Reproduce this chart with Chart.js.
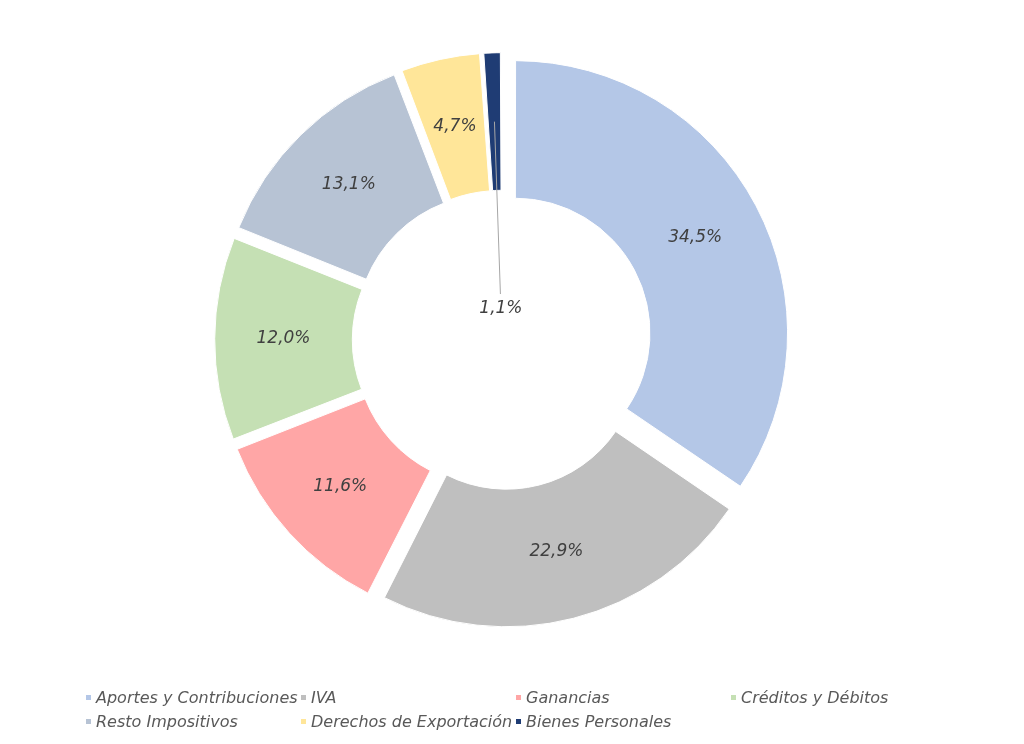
<!DOCTYPE html>
<html>
<head>
<meta charset="utf-8">
<script src="https://cdn.jsdelivr.net/npm/chart.js@4.4.1/dist/chart.umd.min.js"></script>
<style>
  html, body { margin: 0; padding: 0; background: #fff; }
  #wrap { position: relative; width: 1024px; height: 744px; }
  #grafico { position: absolute; left: 0; top: 0; }
  #leyenda {
    position: absolute; left: 86px; top: 688px;
    display: grid; grid-template-columns: 215px 215px 215px 215px;
    row-gap: 5px;
    font-family: "DejaVu Sans", sans-serif; font-style: italic; font-size: 16px; color: #595959;
  }
  #leyenda div { white-space: nowrap; display: flex; align-items: center; line-height: 19px; }
  #leyenda span.cuadro { display: inline-block; width: 5px; height: 5px; margin-right: 5px; }
</style>
</head>
<body>
<div id="wrap">
  <canvas id="grafico" width="1024" height="744"></canvas>
  <div id="leyenda"></div>
</div>
<script>
const categorias = ['Aportes y Contribuciones', 'IVA', 'Ganancias', 'Créditos y Débitos',
                    'Resto Impositivos', 'Derechos de Exportación', 'Bienes Personales']
const valores    = [34.5, 22.9, 11.6, 12.0, 13.1, 4.7, 1.1]
const colores    = ['#b4c7e7', '#bfbfbf', '#ffa6a6', '#c5e0b4', '#b7c3d4', '#ffe699', '#1f3c74']
const etiquetaAdentro = 'Bienes Personales'   // esta va al centro con línea guía

const textoColor = '#404040'
const separacion = 17.5   // desplazamiento radial de cada porción, en px
const fmt = v => v.toFixed(1).replace('.', ',') + '%'

// Chart.js traslada cada arco offset/4 * (1 + fix); se invierte para que todos se separen igual
const total = valores.reduce((a, b) => a + b, 0)
const factor = v => 2 - Math.sin(Math.min(Math.PI, v / total * 2 * Math.PI))
const offsetArco = ctx => 4 * separacion / factor(ctx.raw)

// ── Etiquetas de porcentaje ──
const etiquetas = {
  id: 'etiquetas',
  afterDatasetsDraw(chart) {
    const ctx = chart.ctx
    const arcos = chart.getDatasetMeta(0).data
    ctx.save()
    ctx.font = 'italic 17px "DejaVu Sans", sans-serif'
    ctx.fillStyle = textoColor
    ctx.textAlign = 'center'
    ctx.textBaseline = 'middle'
    arcos.forEach((arco, i) => {
      const { x, y, startAngle, endAngle, innerRadius, outerRadius } = arco
      const a = (startAngle + endAngle) / 2
      const r = (innerRadius + outerRadius) / 2 + separacion
      const px = x + Math.cos(a) * r
      const py = y + Math.sin(a) * r
      if (categorias[i] === etiquetaAdentro) {
        const lx = x + Math.cos(a) * 46
        const ly = y + Math.sin(a) * 46
        ctx.strokeStyle = '#a6a6a6'
        ctx.lineWidth = 1
        ctx.beginPath()
        ctx.moveTo(px, py)
        ctx.lineTo(lx, ly)
        ctx.stroke()
        ctx.fillText(fmt(valores[i]), x + Math.cos(a) * 31, y + Math.sin(a) * 31)
      } else {
        ctx.fillText(fmt(valores[i]), px, py)
      }
    })
    ctx.restore()
  }
}

new Chart(document.getElementById('grafico'), {
  type: 'doughnut',
  data: {
    labels: categorias,
    datasets: [{
      data: valores,
      backgroundColor: colores,
      borderColor: '#fff',
      borderWidth: 1,
      hoverBorderWidth: 1,
      offset: offsetArco,
      hoverOffset: 0
    }]
  },
  options: {
    responsive: false,
    animation: false,
    cutout: '49%',
    layout: { padding: { left: 180, right: 200, top: 35, bottom: 99 } },
    plugins: {
      legend: { display: false },
      tooltip: { enabled: false }
    }
  },
  plugins: [etiquetas]
})

// ── Leyenda ──
const leyenda = document.getElementById('leyenda')
categorias.forEach((c, i) => {
  const d = document.createElement('div')
  const s = document.createElement('span')
  s.className = 'cuadro'
  s.style.background = colores[i]
  d.appendChild(s)
  d.appendChild(document.createTextNode(c))
  leyenda.appendChild(d)
})
</script>
</body>
</html>
